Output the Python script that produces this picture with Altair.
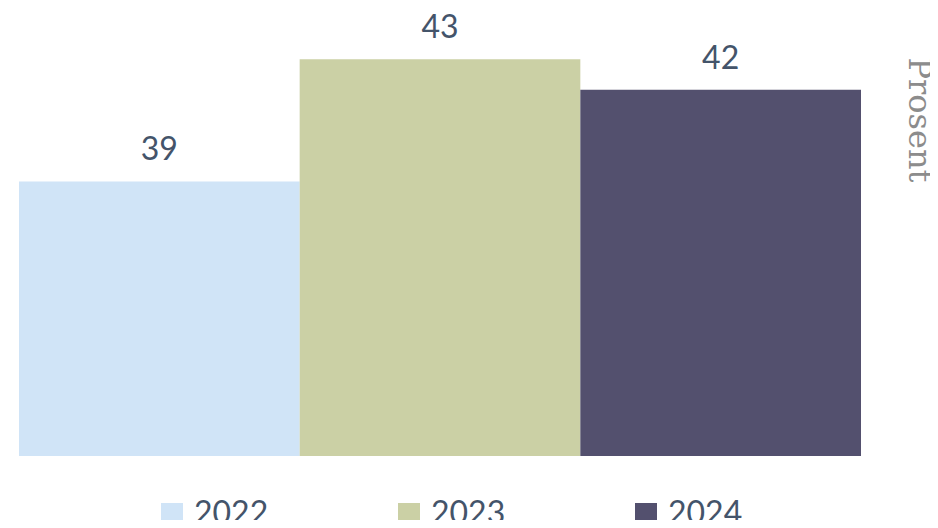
import altair as alt
import pandas as pd

years = ["2022", "2023", "2024"]
values = [39, 43, 42]
colors = ["#d0e4f7", "#cbd0a5", "#53506e"]

df = pd.DataFrame({"year": years, "value": values})

text_color = "#44546a"
font = "Lato"

base = alt.Chart(df).encode(
    x=alt.X("year:N", axis=None,
            scale=alt.Scale(paddingInner=0, paddingOuter=0)),
)

bars = base.mark_bar(clip=True).encode(
    y=alt.Y("value:Q",
            scale=alt.Scale(domain=[30, 43.70], zero=False, nice=False),
            axis=alt.Axis(orient="right", labels=False, ticks=False, domain=False,
                          grid=False, title="Prosent", titleAngle=90,
                          titleFont="DejaVu Serif", titleFontSize=32,
                          titleFontWeight="normal", titleColor="#8c8c8c",
                          titleAlign="left", titleBaseline="alphabetic",
                          titleX=47, titleY=19)),
    color=alt.Color("year:N",
                    scale=alt.Scale(domain=years, range=colors),
                    legend=alt.Legend(orient="none", direction="horizontal",
                                      title=None, legendX=137, legendY=460,
                                      symbolType="square", symbolSize=484,
                                      symbolStrokeWidth=0, symbolOpacity=1,
                                      labelFont=font, labelFontSize=32,
                                      labelColor=text_color, labelOffset=6,
                                      columnPadding=124, padding=0,
                                      labelLimit=200)),
)

labels = base.mark_text(baseline="alphabetic", dy=-21, font=font,
                        fontSize=32, color=text_color).encode(
    y=alt.Y("value:Q"),
    text=alt.Text("value:Q"),
)

chart = alt.layer(bars, labels).properties(
    width=842, height=418,
    autosize=alt.AutoSizeParams(type="none"),
    padding={"left": 11, "top": 30, "right": 69, "bottom": 64},
).configure_view(stroke=None)

chart.save("out.html", embed_options={"renderer": "svg", "actions": False})
